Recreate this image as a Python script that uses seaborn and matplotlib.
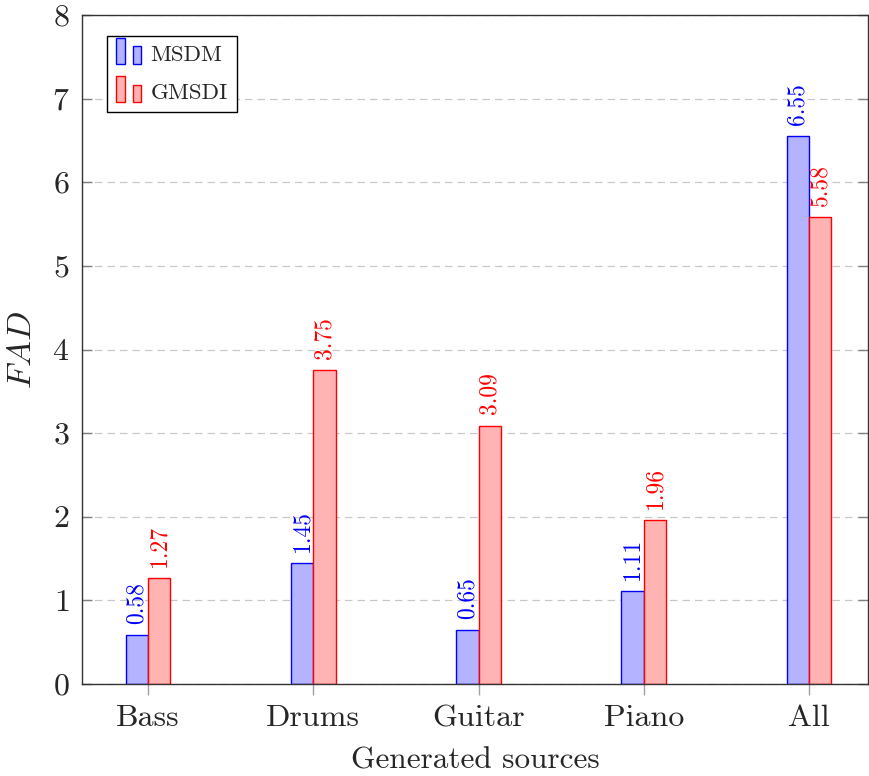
import matplotlib
matplotlib.use("Agg")
import matplotlib.pyplot as plt
from matplotlib.patches import Rectangle
from matplotlib.legend_handler import HandlerBase
import seaborn as sns
import pandas as pd

categories = ["Bass", "Drums", "Guitar", "Piano", "All"]
msdm = [0.58, 1.45, 0.65, 1.11, 6.55]
gmsdi = [1.27, 3.75, 3.09, 1.96, 5.58]
series = ["MSDM", "GMSDI"]

edge_cols = {"MSDM": "#0000ff", "GMSDI": "#ff0000"}
fill_cols = {"MSDM": "#b3b3ff", "GMSDI": "#ffb3b3"}

sns.set_style("white")
plt.rcParams["font.family"] = ["cmr10", "DejaVu Serif"]
plt.rcParams["mathtext.fontset"] = "cm"
plt.rcParams["axes.unicode_minus"] = False
plt.rcParams["axes.formatter.use_mathtext"] = True

df = pd.DataFrame({
    "source": categories * 2,
    "FAD": msdm + gmsdi,
    "model": ["MSDM"] * len(categories) + ["GMSDI"] * len(categories),
})

fig = plt.figure(figsize=(8.7, 7.76), dpi=100)
ax = fig.add_axes([82 / 870, 92 / 776, 786 / 870, 669 / 776])

sns.barplot(data=df, x="source", y="FAD", hue="model", order=categories,
            hue_order=series, palette=fill_cols, width=0.27, saturation=1,
            errorbar=None, ax=ax, legend=False, linewidth=1.0)

for cont, name in zip(ax.containers, series):
    for p in cont:
        p.set_edgecolor(edge_cols[name])
        p.set_linewidth(1.0)
    ax.bar_label(cont, fmt="%.2f", rotation=90, padding=8,
                 color=edge_cols[name], fontsize=17)

ax.set_ylim(0, 8)
ax.set_xlim(-0.4, 4.357)
ax.set_yticks(range(0, 9))
ax.yaxis.grid(True, linestyle=(0, (6, 4)), color="#c8c8c8", linewidth=0.9)
ax.set_axisbelow(True)

for s in ax.spines.values():
    s.set_visible(True)
    s.set_color("#333333")
    s.set_linewidth(1.0)

ax.tick_params(axis="y", direction="in", left=True, right=True, length=7,
               width=1, color="#808080", labelsize=23, pad=9)
ax.tick_params(axis="x", direction="out", bottom=True, length=8,
               width=1, color="#a0a0a0", labelsize=23, pad=7)

ax.set_xlabel("Generated sources", fontsize=22.5, labelpad=10)
ax.set_ylabel("$FAD$", fontsize=25, labelpad=10)


class TwoBarHandler(HandlerBase):
    def __init__(self, name):
        super().__init__()
        self.name = name

    def create_artists(self, legend, orig_handle, xdescent, ydescent,
                       width, height, fontsize, trans):
        w = width * 0.33
        r1 = Rectangle((-xdescent, -ydescent - 2), w, height + 7,
                       facecolor=fill_cols[self.name],
                       edgecolor=edge_cols[self.name], lw=1.0, transform=trans)
        r2 = Rectangle((-xdescent + width * 0.62, -ydescent - 2), w, height + 1,
                       facecolor=fill_cols[self.name],
                       edgecolor=edge_cols[self.name], lw=1.0, transform=trans)
        return [r1, r2]


handles = [Rectangle((0, 0), 1, 1) for _ in series]
leg = ax.legend(handles, series, loc="upper left",
                bbox_to_anchor=(0.032, 0.969), borderaxespad=0,
                handler_map={h: TwoBarHandler(n) for h, n in zip(handles, series)},
                fontsize=16.5, frameon=True, fancybox=False, edgecolor="black",
                framealpha=1, handlelength=1.15, handletextpad=0.35,
                labelspacing=0.8, borderpad=0.4)
leg.get_frame().set_linewidth(1.0)

fig.savefig("out.png", dpi=100)
